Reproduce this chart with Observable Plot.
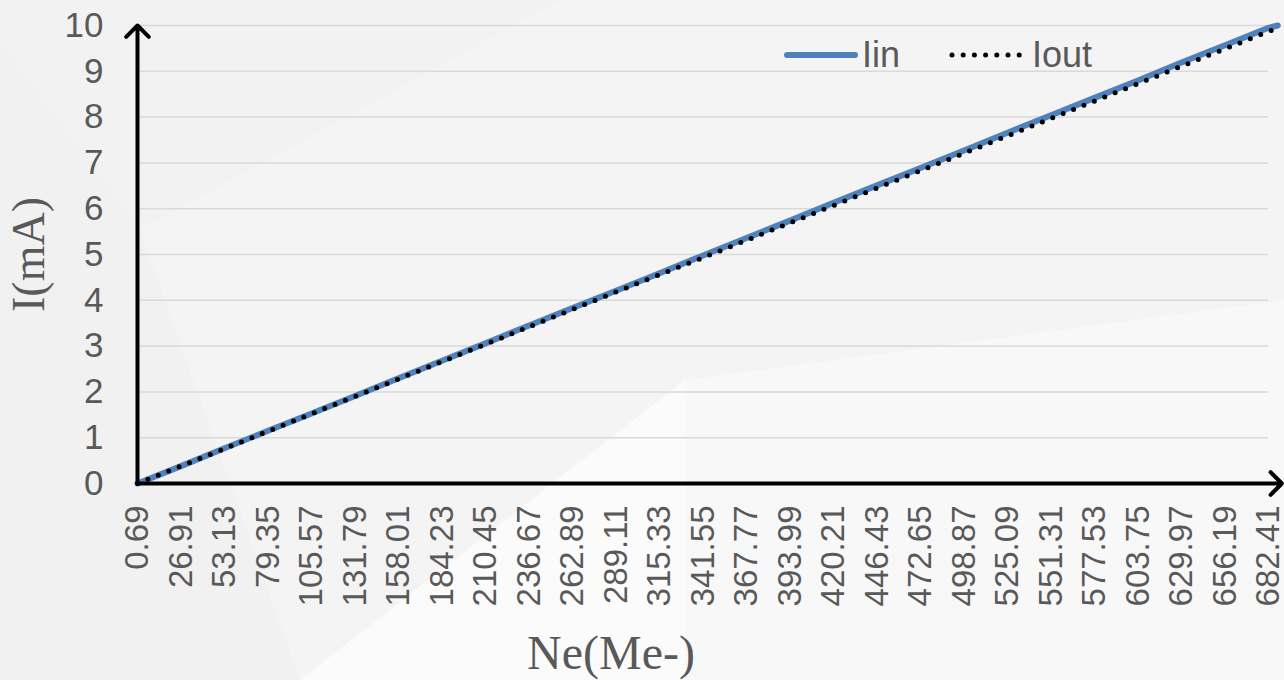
<!DOCTYPE html>
<html><head><meta charset="utf-8">
<script src="https://cdn.jsdelivr.net/npm/d3@7"></script>
<script src="https://cdn.jsdelivr.net/npm/@observablehq/plot@0.6"></script>
<style>
html,body{margin:0;padding:0;background:#f2f2f2;}
#wrap{position:relative;width:1284px;height:680px;overflow:hidden;}
#bg,#chart{position:absolute;left:0;top:0;}
#legend{position:absolute;top:34px;left:783px;font-family:"Liberation Sans",Arial,sans-serif;font-size:36px;color:#595959;display:flex;align-items:center;white-space:nowrap;}
#legend svg{display:block}
</style></head>
<body>
<div id="wrap">
<svg id="bg" width="1284" height="680">
  <polygon points="0,0 1284,0 1284,680 0,680" fill="#f2f2f2"/>
  <polygon points="0,40 140,230 300,680 0,680" fill="#f1f1f1"/>
  <polygon points="140,230 560,0 1284,0 1284,300 685,380 300,680" fill="#f4f4f4"/>
  <polygon points="300,680 685,380 685,680" fill="#fbfbfb"/>
  <polygon points="685,380 1284,300 1284,680 685,680" fill="#f8f8f8"/>
</svg>
<div id="chart"></div>
<div id="legend">
  <svg width="80" height="10"><line x1="4" y1="5" x2="72" y2="5" stroke="#4f81bd" stroke-width="6" stroke-linecap="round"/></svg>
  <span style="margin-left:-1px">Iin</span>
  <svg width="80" height="10" style="margin-left:48px"><line x1="4" y1="5" x2="72" y2="5" stroke="#000" stroke-width="5" stroke-dasharray="0 11.2" stroke-linecap="round"/></svg>
  <span style="margin-left:4px">Iout</span>
</div>
</div>
<script>
// Data
const neTicks = [0.69, 26.91, 53.13, 79.35, 105.57, 131.79, 158.01, 184.23, 210.45, 236.67, 262.89, 289.11, 315.33, 341.55, 367.77, 393.99, 420.21, 446.43, 472.65, 498.87, 525.09, 551.31, 577.53, 603.75, 629.97, 656.19, 682.41];
const neValues = [0.69, 26.91, 53.13, 79.35, 105.57, 131.79, 158.01, 184.23, 210.45, 236.67, 262.89, 289.11, 315.33, 341.55, 367.77, 393.99, 420.21, 446.43, 472.65, 498.87, 525.09, 551.31, 577.53, 603.75, 629.97, 656.19, 682.41, 688.0];
const iinValues = [0, 0.38, 0.77, 1.15, 1.53, 1.91, 2.30, 2.68, 3.06, 3.45, 3.83, 4.21, 4.59, 4.98, 5.36, 5.74, 6.13, 6.51, 6.89, 7.27, 7.66, 8.04, 8.42, 8.80, 9.19, 9.57, 9.95, 10.0];
const ioutValues = [0, 0.38, 0.76, 1.14, 1.52, 1.90, 2.28, 2.66, 3.04, 3.42, 3.80, 4.18, 4.56, 4.93, 5.31, 5.69, 6.07, 6.45, 6.83, 7.21, 7.59, 7.97, 8.35, 8.73, 9.11, 9.49, 9.87, 9.94];
const yTicks = [0, 1, 2, 3, 4, 5, 6, 7, 8, 9, 10];
const xAxisEnd = 690.5;
const xTitle = "Ne(Me-)";
const yTitle = "I(mA)";

const rows = neValues.map((ne, i) => ({ne, iin: iinValues[i], iout: ioutValues[i]}));
const xMin = neTicks[0], xMax = neTicks[neTicks.length - 1];
const yMin = yTicks[0], yMax = yTicks[yTicks.length - 1];

const chart = Plot.plot({
  width: 1284, height: 680,
  marginTop: 25, marginBottom: 197, marginLeft: 137, marginRight: 16,
  style: {background: "transparent", fontFamily: "'Liberation Sans', Arial, sans-serif", color: "#595959", overflow: "visible"},
  x: {type: "linear", domain: [xMin, xMax]},
  y: {domain: [yMin, yMax]},
  marks: [
    Plot.ruleY(yTicks.slice(1), {stroke: "#d9d9d9", strokeWidth: 1.5}),
    Plot.axisY(yTicks, {tickSize: 0, tickPadding: 34, fontSize: 35, label: null, tickFormat: d => String(d)}),
    Plot.axisX(neTicks, {tickSize: 0, tickRotate: -90, tickPadding: 22, fontSize: 33, label: null, tickFormat: d => d.toFixed(2)}),
    Plot.line(rows, {x: "ne", y: "iin", stroke: "#4f81bd", strokeWidth: 6, strokeLinecap: "round"}),
    Plot.line(rows, {x: "ne", y: "iout", stroke: "#000", strokeWidth: 5, strokeDasharray: "0 11.2", strokeLinecap: "round"}),
    Plot.arrow([{x1: xMin, y1: yMin, x2: xMin, y2: yMax}], {x1: "x1", y1: "y1", x2: "x2", y2: "y2", stroke: "#000", strokeWidth: 4, headLength: 6, headAngle: 90}),
    Plot.arrow([{x1: xMin, y1: yMin, x2: xAxisEnd, y2: yMin}], {x1: "x1", y1: "y1", x2: "x2", y2: "y2", stroke: "#000", strokeWidth: 4, headLength: 6, headAngle: 90}),
    Plot.text([yTitle], {frameAnchor: "left", textAnchor: "middle", dx: -108, rotate: -90, fontFamily: "'Liberation Serif', 'Times New Roman', serif", fontSize: 46, fill: "#595959"}),
    Plot.text([xTitle], {frameAnchor: "bottom", dx: -92, dy: 185, fontFamily: "'Liberation Serif', 'Times New Roman', serif", fontSize: 48, fill: "#595959"})
  ]
});
document.getElementById("chart").appendChild(chart);
</script>
</body></html>
